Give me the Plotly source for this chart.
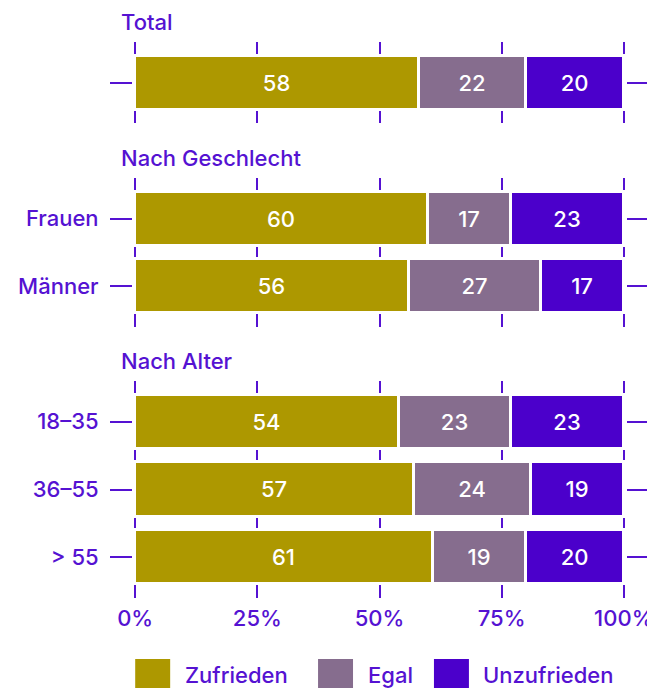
import plotly.graph_objects as go
from plotly.subplots import make_subplots

# ---------------- data ----------------
GROUPS = ["Total", "Nach Geschlecht", "Nach Alter"]
CATEGORIES = [["Total"], ["Frauen", "Männer"], ["18–35", "36–55", "> 55"]]
SERIES = ["Zufrieden", "Egal", "Unzufrieden"]
ZUFRIEDEN = [[58], [60, 56], [54, 57, 61]]
EGAL = [[22], [17, 27], [23, 24, 19]]
UNZUFRIEDEN = [[20], [23, 17], [23, 19, 20]]
X_TICKS = [0, 25, 50, 75, 100]
X_TICKTEXT = ["0%", "25%", "50%", "75%", "100%"]

# ---------------- style ----------------
COLORS = ["#ad9800", "#866d8e", "#4b00cb"]
PURPLE = "#5512d2"
FONT = "Inter, sans-serif"
FS = 22
W, H = 655, 688
OFF = 8  # page body margin
PAD = 0.45  # x range padding so edge gridlines are drawn
X0, X100 = 135, 624  # screen px of 0% and 100%
UNIT = (X100 - X0) / 100
ML = X0 - PAD * UNIT - OFF
MR = W - (X100 + PAD * UNIT - OFF)
# subplot vertical extents in screen px (top, bottom)
PANELS = [(42, 123), (178, 327), (381, 598)]
TITLE_Y = [22, 158, 361]
LEGEND_SWATCH_X = [135, 318, 434]
LEGEND_TEXT_X = [183, 366, 481]


def px_y(v):
    return 1 - (v - OFF) / H


def px_x(v):
    return (v - OFF - ML) / (W - ML - MR)


fig = make_subplots(rows=3, cols=1)
values = [ZUFRIEDEN, EGAL, UNZUFRIEDEN]
font = dict(size=FS, color=PURPLE, family=FONT, weight=500)

for g in range(len(GROUPS)):
    for s, name in enumerate(SERIES):
        fig.add_trace(go.Bar(
            y=CATEGORIES[g], x=values[s][g], name=name, orientation="h",
            marker=dict(color=COLORS[s], line=dict(color="white", width=3)),
            width=0.8, text=values[s][g], textposition="inside",
            insidetextanchor="middle",
            textfont=dict(color="white", size=FS, family=FONT, weight=500),
            showlegend=False, hoverinfo="skip"),
            row=g + 1, col=1)

    n = len(CATEGORIES[g])
    top, bot = PANELS[g]
    fig.update_yaxes(
        type="category", range=[n - 0.4, -0.6], domain=[px_y(bot), px_y(top)],
        ticks="outside", ticklen=22, tickwidth=1.5, tickcolor=PURPLE,
        mirror="ticks", showgrid=False, zeroline=False, showline=False,
        showticklabels=(g > 0), ticklabelstandoff=7, tickfont=font,
        row=g + 1, col=1)
    fig.update_xaxes(
        range=[-PAD, 100 + PAD], tickvals=X_TICKS, ticktext=X_TICKTEXT,
        showgrid=True, gridcolor=PURPLE, gridwidth=1.5,
        zeroline=False, showline=False, ticks="",
        showticklabels=(g == 2), ticklabelstandoff=5, tickfont=font,
        row=g + 1, col=1)

annotations = []
for g, title in enumerate(GROUPS):
    annotations.append(dict(
        text=title, x=px_x(119), y=px_y(TITLE_Y[g]), xref="paper", yref="paper",
        xanchor="left", yanchor="middle", showarrow=False, font=font))

# custom legend with large swatches
shapes = []
for s, name in enumerate(SERIES):
    shapes.append(dict(
        type="rect", xref="paper", yref="paper",
        x0=px_x(LEGEND_SWATCH_X[s]), x1=px_x(LEGEND_SWATCH_X[s] + 35),
        y0=px_y(700), y1=px_y(659), fillcolor=COLORS[s], line=dict(width=0)))
    annotations.append(dict(
        text=name, x=px_x(LEGEND_TEXT_X[s]), y=px_y(675), xref="paper", yref="paper",
        xanchor="left", yanchor="middle", showarrow=False, font=font))

fig.update_layout(
    width=W, height=H, barmode="stack", bargap=0,
    margin=dict(l=ML, r=MR, t=0, b=0),
    paper_bgcolor="white", plot_bgcolor="white",
    annotations=annotations, shapes=shapes, showlegend=False,
    font=dict(family=FONT),
)

fig.write_html("out.html")
